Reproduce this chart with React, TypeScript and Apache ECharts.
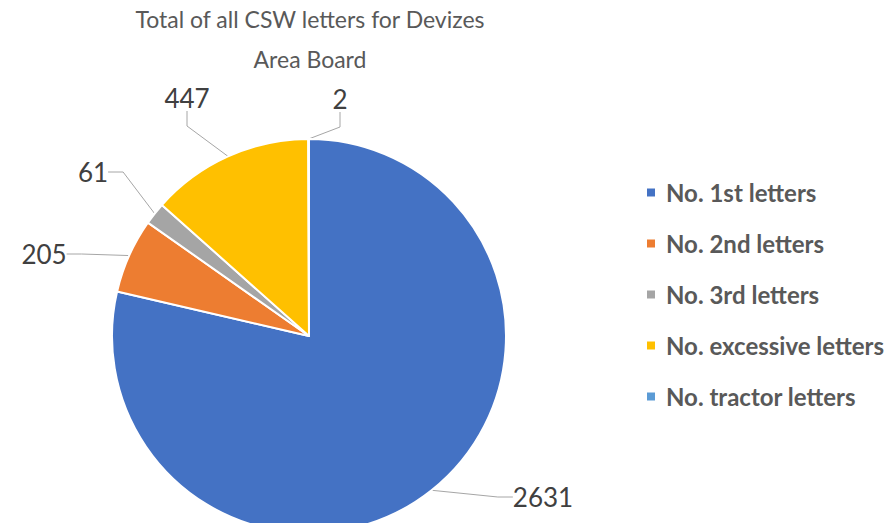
import React, { useEffect, useRef } from "react";
import * as echarts from "echarts";

const titleText = "Total of all CSW letters for Devizes\nArea Board";
const categories = [
  "No. 1st letters",
  "No. 2nd letters",
  "No. 3rd letters",
  "No. excessive letters",
  "No. tractor letters",
];
const values = [2631, 205, 61, 447, 2];
const colors = ["#4472C4", "#ED7D31", "#A5A5A5", "#FFC000", "#5B9BD5"];

// label anchor positions (layout only)
const labelPos: [number, number][] = [
  [543, 497],
  [44, 254],
  [93, 172],
  [187, 98],
  [340, 99],
];

export default function App() {
  const ref = useRef<HTMLDivElement>(null);
  useEffect(() => {
    if (!ref.current) return;
    const chart = echarts.init(ref.current, undefined, { renderer: "svg" });
    chart.setOption({
      animation: false,
      color: colors,
      title: {
        text: titleText,
        left: 310,
        top: -1,
        padding: 0,
        textAlign: "center",
        textStyle: {
          fontFamily: "Lato, sans-serif",
          fontSize: 23,
          fontWeight: "normal",
          color: "#595959",
          lineHeight: 40,
        },
      },
      legend: {
        orient: "vertical",
        left: 645,
        top: 179,
        padding: 0,
        itemWidth: 10,
        itemHeight: 10,
        itemGap: 24,
        icon: "rect",
        data: categories,
        textStyle: {
          fontFamily: "Lato, sans-serif",
          fontSize: 24,
          fontWeight: "bold",
          color: "#595959",
          lineHeight: 27,
          padding: [0, 0, 0, 5],
        },
      },
      series: [
        {
          type: "pie",
          center: [309, 336],
          radius: 197,
          startAngle: 90,
          clockwise: true,
          data: categories.map((c, i) => ({ name: c, value: values[i] })),
          itemStyle: { borderColor: "#ffffff", borderWidth: 2 },
          label: {
            show: true,
            formatter: "{c}",
            fontFamily: "Lato, sans-serif",
            fontSize: 26,
            color: "#404040",
          },
          labelLine: {
            show: true,
            length: 15,
            length2: 15,
            lineStyle: { color: "#A6A6A6", width: 1 },
          },
          labelLayout: (params: any) => {
            const p = labelPos[params.dataIndex];
            return { x: p[0], y: p[1], align: "center", verticalAlign: "middle" };
          },
        },
      ],
    });
    return () => chart.dispose();
  }, []);
  return <div ref={ref} style={{ width: 893, height: 531, margin: -8 }} />;
}
